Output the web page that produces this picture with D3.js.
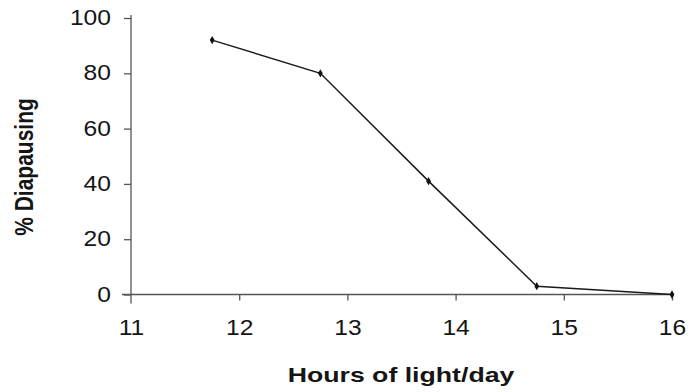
<!DOCTYPE html>
<html>
<head>
<meta charset="utf-8">
<script src="https://cdn.jsdelivr.net/npm/d3@7"></script>
<style>
  html, body { margin: 0; padding: 0; background: #fff; }
  svg { display: block; }
  text { font-family: "Liberation Sans", Arial, Helvetica, sans-serif; fill: #151515; }
</style>
</head>
<body>
<svg id="chart" width="688" height="392"></svg>
<script>
const hours = [11.75, 12.75, 13.75, 14.75, 16];
const diapausing = [92, 80, 41, 3, 0];
const xTicks = [11, 12, 13, 14, 15, 16];
const yTicks = [0, 20, 40, 60, 80, 100];
const xTitle = "Hours of light/day";
const yTitle = "% Diapausing";

const svg = d3.select("#chart");
const x = d3.scaleLinear().domain([11, 16]).range([131, 672]);
const y = d3.scaleLinear().domain([0, 100]).range([294.5, 18]);
const axisColor = "#555";
const font = '"Liberation Sans", Arial, sans-serif';

// Y axis
const gy = svg.append("g").attr("transform", `translate(${x(11)},0)`)
  .call(d3.axisLeft(y).tickValues(yTicks).tickSize(7).tickPadding(13).tickFormat(d3.format("d")));
gy.select(".domain").remove();
gy.selectAll(".tick line").attr("stroke", axisColor).attr("stroke-width", 1.3);
gy.selectAll(".tick text").each(function() {
  const t = d3.select(this);
  const tx = +t.attr("x");
  t.attr("x", null).attr("transform", `translate(${tx},0) scale(1.12,1)`);
}).attr("font-size", 22).attr("fill", "#151515").attr("dy", "0.3em").style("font-family", font);
gy.append("line").attr("x1", 0).attr("x2", 0).attr("y1", y(100) - 3).attr("y2", y(0) + 9)
  .attr("stroke", axisColor).attr("stroke-width", 1.3);

// X axis
const gx = svg.append("g").attr("transform", `translate(0,${y(0)})`)
  .call(d3.axisBottom(x).tickValues(xTicks).tickSize(6).tickPadding(19).tickFormat(d3.format("d")));
gx.select(".domain").remove();
gx.selectAll(".tick line").attr("stroke", axisColor).attr("stroke-width", 1.3)
  .filter(d => d === 11).remove();
gx.selectAll(".tick text").each(function() {
  const t = d3.select(this);
  const ty = +t.attr("y");
  t.attr("y", null).attr("transform", `translate(0,${ty}) scale(1.12,1)`);
}).attr("font-size", 22).attr("fill", "#151515").style("font-family", font);
gx.append("line").attr("x1", x(11) - 9).attr("x2", x(16)).attr("y1", 0).attr("y2", 0)
  .attr("stroke", axisColor).attr("stroke-width", 1.5);

// Line
const pts = hours.map((h, i) => [h, diapausing[i]]);
svg.append("path").datum(pts)
  .attr("fill", "none").attr("stroke", "#1a1a1a").attr("stroke-width", 1.5)
  .attr("d", d3.line().x(d => x(d[0])).y(d => y(d[1])));

svg.selectAll(".pt").data(pts).enter().append("path")
  .attr("class", "pt")
  .attr("transform", d => `translate(${x(d[0])},${y(d[1])})`)
  .attr("d", d3.symbol().type(d3.symbolDiamond).size(20))
  .attr("fill", "#111");

// Titles
svg.append("text").attr("transform", "translate(401,382) scale(1.27,1)")
  .attr("text-anchor", "middle")
  .attr("font-size", 21).attr("font-weight", "bold")
  .text(xTitle);

svg.append("text").attr("transform", "translate(33,167) scale(1.2,1) rotate(-90)")
  .attr("text-anchor", "middle")
  .attr("font-size", 21).attr("font-weight", "bold")
  .text(yTitle);
</script>
</body>
</html>
